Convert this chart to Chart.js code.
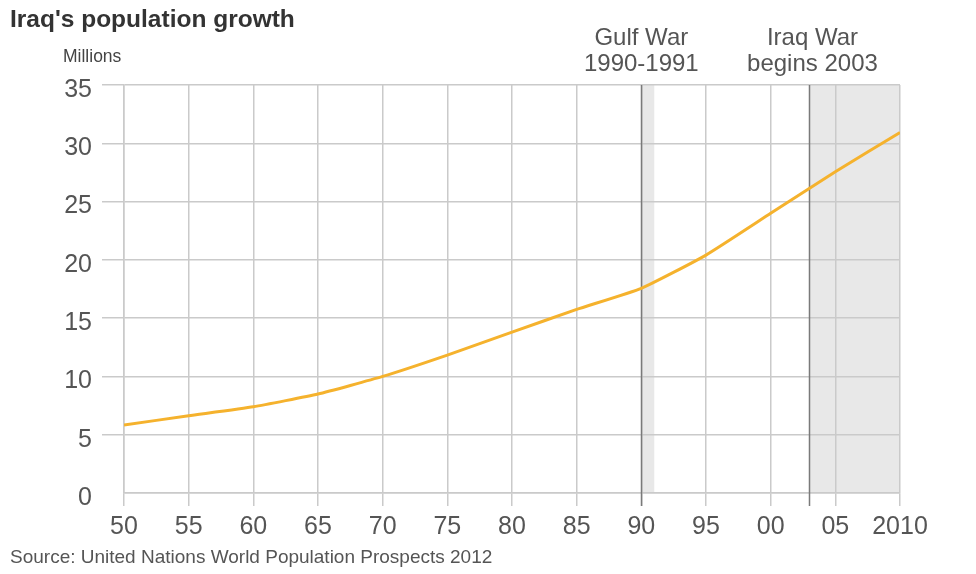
<!DOCTYPE html>
<html>
<head>
<meta charset="utf-8">
<script src="https://cdn.jsdelivr.net/npm/chart.js@4"></script>
<style>
  body { margin: 0; background: #fff; }
  canvas { display: block; }
</style>
</head>
<body>
<canvas id="myChart" width="976" height="574"></canvas>
<script>
// population, millions
const years = [1950, 1955, 1960, 1965, 1970, 1975, 1980, 1985, 1990, 1995, 2000, 2005, 2010];
const population = [5.83, 6.63, 7.4, 8.49, 10.0, 11.83, 13.8, 15.75, 17.56, 20.41, 23.99, 27.56, 30.93];

// shaded periods
const gulfWar = [1990, 1991];
const iraqWar = [2003, 2010];
const gulfLabel = ["Gulf War", "1990-1991"];
const iraqLabel = ["Iraq War", "begins 2003"];

const titleText = "Iraq's population growth";
const unitText = "Millions";
const sourceText = "Source: United Nations World Population Prospects 2012";

const FONT = "'Liberation Sans', Arial, sans-serif";

const warPlugin = {
  id: 'warPlugin',
  beforeDraw(chart) {
    const ctx = chart.ctx;
    const x = chart.scales.x;
    const area = chart.chartArea;
    ctx.save();
    ctx.fillStyle = '#e8e8e8';
    for (let period of [gulfWar, iraqWar]) {
      let x1 = x.getPixelForValue(period[0]);
      let x2 = x.getPixelForValue(period[1]);
      ctx.fillRect(x1, area.top, x2 - x1, area.bottom - area.top);
    }
    ctx.restore();
  },
  beforeDatasetsDraw(chart) {
    const ctx = chart.ctx;
    const x = chart.scales.x;
    const area = chart.chartArea;
    ctx.save();
    ctx.strokeStyle = '#7a7a7a';
    ctx.lineWidth = 1.5;
    for (let period of [gulfWar, iraqWar]) {
      let px = Math.round(x.getPixelForValue(period[0])) + 0.5;
      ctx.beginPath();
      ctx.moveTo(px, area.top);
      ctx.lineTo(px, area.bottom + 13);
      ctx.stroke();
    }
    ctx.restore();
  },
  afterDraw(chart) {
    const ctx = chart.ctx;
    const x = chart.scales.x;
    ctx.save();
    ctx.fillStyle = '#333';
    ctx.textAlign = 'left';
    ctx.textBaseline = 'alphabetic';
    ctx.font = 'bold 24.5px ' + FONT;
    ctx.fillText(titleText, 10, 27);

    ctx.fillStyle = '#444';
    ctx.font = '17.5px ' + FONT;
    ctx.fillText(unitText, 63, 62);

    ctx.font = '19px ' + FONT;
    ctx.fillStyle = '#555';
    ctx.fillText(sourceText, 10, 563);

    ctx.font = '24px ' + FONT;
    ctx.fillStyle = '#555';
    ctx.textAlign = 'center';
    let gx = x.getPixelForValue(gulfWar[0]);
    ctx.fillText(gulfLabel[0], gx, 45);
    ctx.fillText(gulfLabel[1], gx, 71);
    let ix = x.getPixelForValue(iraqWar[0]) + 3;
    ctx.fillText(iraqLabel[0], ix, 45);
    ctx.fillText(iraqLabel[1], ix, 71);
    ctx.restore();
  }
};

const ctx = document.getElementById('myChart').getContext('2d');
const myChart = new Chart(ctx, {
  type: 'line',
  data: {
    datasets: [{
      data: years.map((y, i) => ({ x: y, y: population[i] })),
      borderColor: '#f5b22d',
      borderWidth: 3,
      pointRadius: 0,
      tension: 0.15,
      fill: false
    }]
  },
  options: {
    responsive: false,
    animation: false,
    layout: { padding: { top: 85, right: 76, bottom: 0, left: 0 } },
    plugins: {
      legend: { display: false },
      tooltip: { enabled: false }
    },
    scales: {
      x: {
        type: 'linear',
        min: 1950,
        max: 2010,
        afterFit: function (scale) { scale.height = 81; },
        grid: {
          color: '#cacaca',
          lineWidth: 1.5,
          tickLength: 13,
          tickColor: '#cacaca'
        },
        border: { display: true, color: '#cacaca', width: 1.5 },
        ticks: {
          stepSize: 5,
          padding: 6,
          color: '#555',
          font: { family: FONT, size: 25 },
          maxRotation: 0,
          callback: function (value) {
            if (value == 2010) return '2010';
            return String(value % 100).padStart(2, '0');
          }
        }
      },
      y: {
        min: 0,
        max: 35,
        afterFit: function (scale) { scale.width = 124; },
        grid: {
          color: '#cacaca',
          lineWidth: 1.5,
          tickLength: 22,
          tickColor: function (c) { return c.tick && c.tick.value == 0 ? 'rgba(0,0,0,0)' : '#cacaca'; }
        },
        border: { display: true, color: '#cacaca', width: 1.5 },
        ticks: {
          stepSize: 5,
          padding: 10,
          labelOffset: 5,
          color: '#555',
          font: { family: FONT, size: 25 }
        }
      }
    }
  },
  plugins: [warPlugin]
});
</script>
</body>
</html>
